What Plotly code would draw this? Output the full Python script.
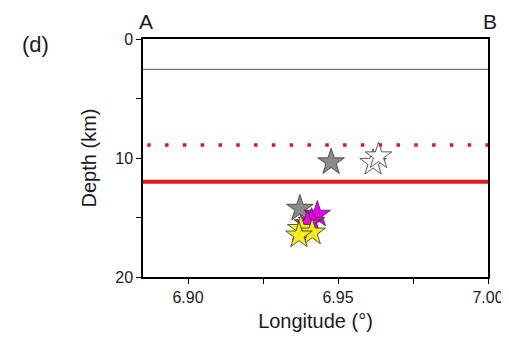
import plotly.graph_objects as go

# data
gray_lon = [6.9477, 6.9373]
gray_dep = [10.35, 14.25]
white_lon = [6.9617, 6.9635]
white_dep = [10.4, 9.85]
mag_lon = [6.9431, 6.9412, 6.9398]
mag_dep = [14.75, 15.35, 15.55]
yel_lon = [6.9376, 6.9414, 6.9370]
yel_dep = [15.95, 16.25, 16.5]
layer_gray = 2.55
layer_dotted = 8.9
layer_solid = 12.0
x_range = [6.885, 7.00]
x_ticks = [6.90, 6.95, 7.00]
x_ticklabels = ["6.90", "6.95", "7.00"]
y_ticks = [0, 10, 20]

fig = go.Figure()

fig.add_trace(go.Scatter(x=x_range, y=[layer_gray]*2, mode="lines",
                         line=dict(color="#555555", width=1), showlegend=False))
fig.add_trace(go.Scatter(x=[6.88642, 7.00], y=[layer_dotted]*2, mode="lines",
                         line=dict(color="#d9191c", width=3.5, dash="3.5px,14.3px"), showlegend=False))
fig.add_trace(go.Scatter(x=x_range, y=[layer_solid]*2, mode="lines",
                         line=dict(color="#e0191c", width=4), showlegend=False))

def stars(x, y, color):
    fig.add_trace(go.Scatter(x=x, y=y, mode="markers", showlegend=False,
                             marker=dict(symbol="star", size=20, color=color,
                                         line=dict(color="#333333", width=0.8))))

stars(gray_lon, gray_dep, "#8a8a8a")
stars(white_lon, white_dep, "white")
stars(mag_lon, mag_dep, "#ee00ee")
stars(yel_lon, yel_dep, "#f5ee1c")

font = "Liberation Sans, Arial, sans-serif"
fig.update_layout(
    width=509, height=338,
    margin=dict(l=135, r=29, t=31, b=69),
    paper_bgcolor="white", plot_bgcolor="white",
    font=dict(family=font, color="#1a1a1a"),
    xaxis=dict(range=x_range, tickvals=x_ticks, ticktext=x_ticklabels, automargin=False,
               ticks="outside", ticklen=5, tickwidth=1, tickcolor="black",
               tickfont=dict(size=16), showgrid=False, zeroline=False,
               showline=True, linecolor="black", linewidth=1.5, mirror=True,
               minor=dict(dtick=0.025, tick0=6.9, ticks="outside", ticklen=5, tickcolor="black", showgrid=False),
               title=dict(text="Longitude (°)", font=dict(size=20), standoff=9)),
    yaxis=dict(range=[20, 0], tickvals=y_ticks, ticks="outside", ticklen=5, automargin=False,
               tickwidth=1, tickcolor="black", tickfont=dict(size=16),
               showgrid=False, zeroline=False, showline=True, linecolor="black",
               linewidth=1.5, mirror=True,
               minor=dict(dtick=5, tick0=0, ticks="outside", ticklen=5, tickcolor="black", showgrid=False),
               title=dict(text="Depth (km)", font=dict(size=20), standoff=13)),
    annotations=[
        dict(text="A", x=0, y=1, xref="paper", yref="paper", xanchor="center", yanchor="bottom",
             xshift=3, yshift=4, showarrow=False, font=dict(size=21)),
        dict(text="B", x=1, y=1, xref="paper", yref="paper", xanchor="center", yanchor="bottom",
             xshift=2, yshift=4, showarrow=False, font=dict(size=21)),
        dict(text="(d)", x=-0.313, y=0.975, xref="paper", yref="paper", xanchor="center", yanchor="middle",
             showarrow=False, font=dict(size=22)),
    ],
)

fig.write_html("out.html")
